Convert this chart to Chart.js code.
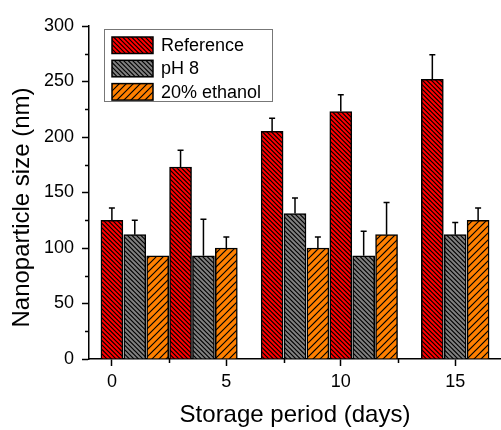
<!DOCTYPE html>
<html>
<head>
<meta charset="utf-8">
<script src="https://cdn.jsdelivr.net/npm/chart.js@4.4.1/dist/chart.umd.min.js"></script>
<style>
  html, body { margin: 0; padding: 0; background: #fff; }
  #wrap { width: 501px; height: 430px; position: relative; }
</style>
</head>
<body>
<div id="wrap"><canvas id="cv"></canvas></div>
<script>
// day positions of each bar (each series sits on its own day slot)
var refDays = [0, 3, 7, 10, 14];
var ph8Days = [1, 4, 8, 11, 15];
var ethDays = [2, 5, 9, 12, 16];

// mean size (nm) and upper error
var refSize = [125, 173, 205, 223, 252];
var refErr  = [11, 15, 12, 15, 22];
var ph8Size = [112, 93, 131, 93, 112];
var ph8Err  = [13, 33, 14, 22, 11];
var ethSize = [93, 100, 100, 112, 125];
var ethErr  = [0, 10, 10, 29, 11];

var xTicks = [0, 5, 10, 15];
var xMinor = [2.5, 7.5, 12.5];
var yMinor = [25, 75, 125, 175, 225, 275];

var FONT = "'Liberation Sans', Arial, sans-serif";

function hatch(color, spacing, dir) {
    var t = spacing * 2;
    var c = document.createElement("canvas");
    c.width = t; c.height = t;
    var g = c.getContext("2d");
    g.fillStyle = color;
    g.fillRect(0, 0, t, t);
    g.strokeStyle = "#000";
    g.lineWidth = 1.2;
    g.beginPath();
    for (var k = -t; k <= 2 * t; k += spacing) {
        if (dir == "\\") {
            g.moveTo(k - t, -t); g.lineTo(k + 2 * t, 2 * t);
        } else {
            g.moveTo(k - t, 2 * t); g.lineTo(k + 2 * t, -t);
        }
    }
    g.stroke();
    return g.createPattern(c, "repeat");
}

function pts(days, vals) {
    return days.map(function(d, i) { return {x: d, y: vals[i]}; });
}

var errorBars = {
    id: "errorBars",
    afterDatasetsDraw: function(chart) {
        var ctx = chart.ctx, ys = chart.scales.y;
        ctx.save();
        ctx.strokeStyle = "#000";
        ctx.lineWidth = 1.5;
        chart.data.datasets.forEach(function(ds, di) {
            var meta = chart.getDatasetMeta(di);
            meta.data.forEach(function(bar, i) {
                var e = ds.errors[i];
                if (!e) return;
                var top = ys.getPixelForValue(ds.data[i].y + e);
                ctx.beginPath();
                ctx.moveTo(bar.x, bar.y);
                ctx.lineTo(bar.x, top);
                ctx.moveTo(bar.x - 3, top);
                ctx.lineTo(bar.x + 3, top);
                ctx.stroke();
            });
        });
        ctx.restore();
    }
};

var extras = {
    id: "extras",
    afterDraw: function(chart) {
        var ctx = chart.ctx, xs = chart.scales.x, ys = chart.scales.y;
        var area = chart.chartArea;
        ctx.save();
        // minor ticks
        ctx.strokeStyle = "#000";
        ctx.lineWidth = 1.5;
        ctx.beginPath();
        yMinor.forEach(function(v) {
            var p = Math.round(ys.getPixelForValue(v)) + 0.5;
            ctx.moveTo(area.left - 4, p); ctx.lineTo(area.left, p);
        });
        xMinor.forEach(function(v) {
            var p = Math.round(xs.getPixelForValue(v)) + 0.5;
            ctx.moveTo(p, area.bottom); ctx.lineTo(p, area.bottom + 4);
        });
        ctx.stroke();

        // y title
        ctx.fillStyle = "#000";
        ctx.font = "24px " + FONT;
        ctx.textAlign = "center";
        ctx.textBaseline = "alphabetic";
        ctx.translate(29, (area.top + area.bottom) / 2 + 15);
        ctx.rotate(-Math.PI / 2);
        ctx.fillText("Nanoparticle size (nm)", 0, 0);
        ctx.setTransform(1, 0, 0, 1, 0, 0);

        // legend box
        var lx = area.left + 15, ly = area.top + 3;
        ctx.strokeStyle = "#777";
        ctx.lineWidth = 1;
        ctx.strokeRect(lx + 0.5, ly + 0.5, 168, 72);
        ctx.font = "18px " + FONT;
        ctx.textAlign = "left";
        ctx.textBaseline = "middle";
        chart.data.datasets.forEach(function(ds, i) {
            var sy = ly + 8 + i * 23.3;
            ctx.fillStyle = ds.backgroundColor;
            ctx.fillRect(lx + 8, sy, 41, 16.5);
            ctx.strokeStyle = "#000";
            ctx.lineWidth = 1.5;
            ctx.strokeRect(lx + 8, sy, 41, 16.5);
            ctx.fillStyle = "#000";
            ctx.fillText(ds.label, lx + 57, sy + 9);
        });
        ctx.restore();
    }
};

var datasets = [
    {label: "Reference", data: pts(refDays, refSize), errors: refErr,
     backgroundColor: hatch("#ff0000", 4.5, "\\")},
    {label: "pH 8", data: pts(ph8Days, ph8Size), errors: ph8Err,
     backgroundColor: hatch("#808080", 4.5, "\\")},
    {label: "20% ethanol", data: pts(ethDays, ethSize), errors: ethErr,
     backgroundColor: hatch("#ff8000", 7, "/")}
];
datasets.forEach(function(ds) {
    ds.borderColor = "#000";
    ds.borderWidth = 1.5;
    ds.barThickness = 22;
    ds.grouped = false;
});

new Chart(document.getElementById("cv"), {
    type: "bar",
    data: {datasets: datasets},
    plugins: [errorBars, extras],
    options: {
        responsive: true,
        maintainAspectRatio: false,
        animation: false,
        devicePixelRatio: 1,
        layout: {padding: {top: 26, right: 0, left: 0, bottom: 0}},
        plugins: {legend: {display: false}, tooltip: {enabled: false}},
        scales: {
            x: {
                type: "linear",
                min: -1,
                max: 17,
                offset: false,
                afterBuildTicks: function(s) {
                    s.ticks = xTicks.map(function(v) { return {value: v}; });
                },
                afterFit: function(s) { s.height = 71; },
                grid: {display: true, offset: false, drawOnChartArea: false, drawTicks: true,
                       tickLength: 7, tickColor: "#000", tickWidth: 1.5},
                border: {display: true, color: "#000", width: 1.5},
                ticks: {color: "#000", font: {family: FONT, size: 18}, padding: 5,
                        maxRotation: 0, autoSkip: false},
                title: {display: true, text: "Storage period (days)", color: "#000",
                        font: {family: FONT, size: 24}, padding: {top: -3, bottom: 0}}
            },
            y: {
                min: 0,
                max: 300,
                afterFit: function(s) { s.width = 89; },
                grid: {display: true, drawOnChartArea: false, drawTicks: true,
                       tickLength: 7, tickColor: "#000", tickWidth: 1.5},
                border: {display: true, color: "#000", width: 1.5},
                ticks: {stepSize: 50, color: "#000", font: {family: FONT, size: 18}, padding: 8}
            }
        }
    }
});
</script>
</body>
</html>
